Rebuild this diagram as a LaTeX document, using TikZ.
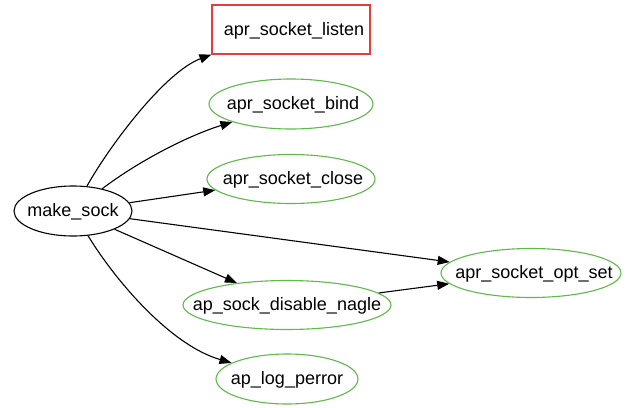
\documentclass[tikz,border=0pt]{standalone}
\usepackage{fontspec}
\setmainfont{Liberation Sans}
\usetikzlibrary{shapes.geometric,arrows.meta}
\definecolor{gnode}{RGB}{95,185,75}
\definecolor{rnode}{RGB}{230,60,60}
\newcommand{\nodetext}[1]{\raisebox{-0.6ex}[0pt][0pt]{\makebox[0pt]{#1}}}
\tikzset{
  basefn/.style={line width=1.1pt,fill=white,inner sep=0pt,font=\fontsize{18}{20}\selectfont},
  fn/.style={basefn,ellipse,draw=gnode},
  rootfn/.style={basefn,ellipse,draw=black},
  boxfn/.style={basefn,rectangle,draw=rnode},
  call/.style={draw=black,line width=1.1pt,-{Triangle[length=12pt,width=9pt]}}
}
\begin{document}
\begin{tikzpicture}[x=1pt,y=-1pt]
\useasboundingbox (0,0) rectangle (634,407);
\node[rootfn,minimum width=118pt,minimum height=50pt] (ms) at (73,211) {\nodetext{make\_sock}};
\node[boxfn,minimum width=158pt,minimum height=49pt] (listen) at (291,29.5) {\nodetext{\hspace{6pt}apr\_socket\_listen}};
\node[fn,minimum width=164pt,minimum height=50pt] (bind) at (291,104) {\nodetext{\hspace{4pt}apr\_socket\_bind}};
\node[fn,minimum width=168pt,minimum height=49pt] (close) at (291,179) {\nodetext{\hspace{4pt}apr\_socket\_close}};
\node[fn,minimum width=180pt,minimum height=49pt] (opt) at (531,273) {\nodetext{\hspace{6pt}apr\_socket\_opt\_set}};
\node[fn,minimum width=208pt,minimum height=49pt] (nagle) at (287,305) {\nodetext{ap\_sock\_disable\_nagle}};
\node[fn,minimum width=142pt,minimum height=50pt] (perror) at (287,379) {\nodetext{ap\_log\_perror}};
\draw[call] (ms) .. controls (110,145) and (165,72) .. (listen.south west);
\draw[call] (ms) .. controls (140,160) and (190,135) .. (bind);
\draw[call] (ms) -- (close);
\draw[call] (ms) -- (opt);
\draw[call] (ms) -- (nagle);
\draw[call] (ms) .. controls (115,280) and (170,345) .. (perror);
\draw[call] (nagle) -- (opt);
\end{tikzpicture}
\end{document}
